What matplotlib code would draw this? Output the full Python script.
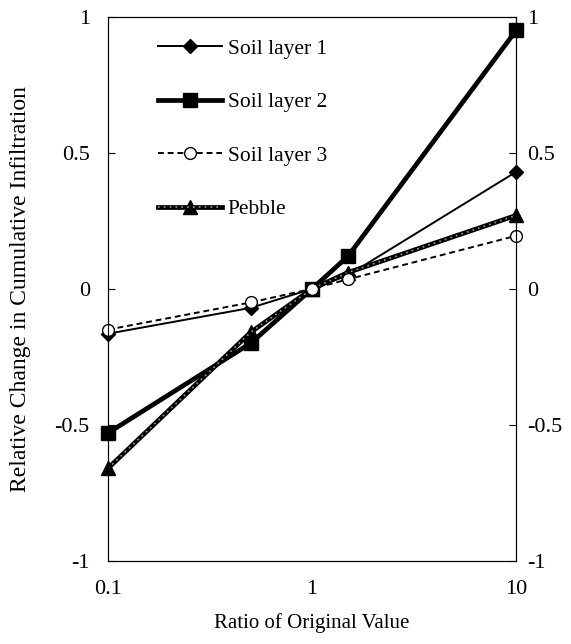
import matplotlib.pyplot as plt
import matplotlib.ticker as mticker

plt.rcParams["font.family"] = ["Liberation Serif", "DejaVu Serif"]
plt.rcParams["font.size"] = 15

ratio = [0.1, 0.5, 1, 1.5, 10]
soil1 = [-0.165, -0.07, 0.0, 0.05, 0.43]
soil2 = [-0.53, -0.20, 0.0, 0.12, 0.95]
soil3 = [-0.15, -0.05, 0.0, 0.035, 0.195]
pebble = [-0.66, -0.16, 0.0, 0.06, 0.27]
yticks = [-1, -0.5, 0, 0.5, 1]
ytick_labels = ["-1", "-0.5", "0", "0.5", "1"]

fig = plt.figure(figsize=(5.71, 6.44), dpi=100)
ax = fig.add_axes([0.189, 0.129, 0.715, 0.845])

ax.plot(ratio, soil1, color="black", lw=1.4, marker="D", ms=7.5, label="Soil layer 1", clip_on=False, zorder=3)
ax.plot(ratio, soil2, color="black", lw=3.4, marker="s", ms=10, label="Soil layer 2", clip_on=False, zorder=3)
ax.plot(ratio, soil3, color="black", lw=1.4, ls=(0, (3, 2)), marker="o", ms=8.5, mfc="white",
        label="Soil layer 3", clip_on=False, zorder=4)
# pebble: thick black line with a grey dotted core
ax.plot(ratio, pebble, color="black", lw=3.4, marker="^", ms=10, clip_on=False, zorder=3)
ax.plot(ratio, pebble, color="#9a9a9a", lw=1.2, ls=(0, (1, 2.5)), zorder=3.5)
peb_handle = (plt.Line2D([], [], color="black", lw=3.4, marker="^", ms=10),
              plt.Line2D([], [], color="#9a9a9a", lw=1.2, ls=(0, (1, 2.5))))

ax.set_xscale("log")
ax.set_xlim(0.1, 10)
ax.set_ylim(-1, 1)
ax.xaxis.set_major_locator(mticker.FixedLocator([0.1, 1, 10]))
ax.xaxis.set_major_formatter(mticker.FixedFormatter(["0.1", "1", "10"]))
ax.xaxis.set_minor_locator(mticker.NullLocator())
ax.set_yticks(yticks)
ax.set_yticklabels(ytick_labels)
ax.tick_params(axis="x", length=0, pad=14, labelsize=16)
ax.tick_params(axis="y", direction="in", length=5, labelsize=16, pad=13)

# right-hand axis repeats the y scale
ax2 = ax.twinx()
ax2.set_ylim(-1, 1)
ax2.set_yticks(yticks)
ax2.set_yticklabels(ytick_labels)
ax2.tick_params(axis="y", direction="in", length=5, labelsize=16, pad=8)

ax.set_xlabel("Ratio of Original Value", fontsize=15, labelpad=10)
ax.set_ylabel("Relative Change in Cumulative Infiltration", fontsize=17, labelpad=17)

handles, labels = ax.get_legend_handles_labels()
handles.append(peb_handle)
labels.append("Pebble")
ax.legend(handles, labels, loc="upper left", bbox_to_anchor=(0.075, 0.995), frameon=False,
          handlelength=3.0, labelspacing=1.55, fontsize=15.5, handletextpad=0.25)

fig.savefig("out.png", dpi=100)
